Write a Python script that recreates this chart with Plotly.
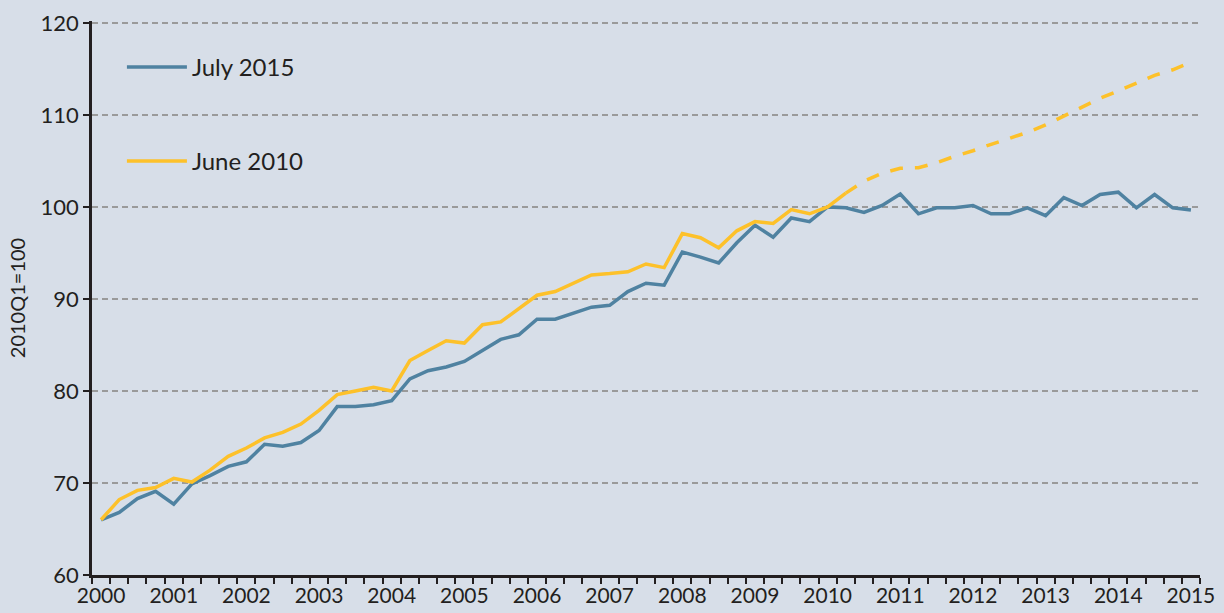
import plotly.graph_objects as go

quarters = [f"{y}Q{q}" for y in range(2000, 2015) for q in range(1, 5)] + ["2015Q1"]
tick_text = [q[:4] if q.endswith("Q1") else "" for q in quarters]

july_2015 = [66.0, 66.8, 68.3, 69.1, 67.7, 69.9, 70.8, 71.8, 72.3, 74.2,
             74.0, 74.4, 75.7, 78.3, 78.3, 78.5, 78.95, 81.3, 82.2, 82.6,
             83.2, 84.4, 85.6, 86.1, 87.8, 87.8, 88.45, 89.1, 89.3, 90.8,
             91.7, 91.5, 95.1, 94.55, 93.9, 96.1, 98.0, 96.7, 98.8, 98.4,
             100.0, 99.9, 99.4, 100.15, 101.4, 99.25, 99.9, 99.9, 100.15, 99.25,
             99.25, 99.9, 99.05, 101.0, 100.15, 101.35, 101.6, 99.9, 101.35, 99.9,
             99.65]

june_2010_actual = [66.0, 68.2, 69.2, 69.5, 70.5, 70.1, 71.4, 72.9, 73.8, 74.9,
                    75.5, 76.4, 77.9, 79.6, 80.0, 80.4, 80.0, 83.3, 84.4, 85.45,
                    85.2, 87.2, 87.5, 88.9, 90.4, 90.8, 91.7, 92.6, 92.75, 92.95,
                    93.8, 93.4, 97.1, 96.65, 95.55, 97.4, 98.4, 98.2, 99.7, 99.25,
                    100.0, 101.5]
june_2010_forecast = [101.5, 102.8, 103.65, 104.2, 104.25, 104.8, 105.5, 106.1, 106.8, 107.4,
                      108.1, 108.9, 109.9, 110.8, 111.8, 112.6, 113.4, 114.3, 114.9, 115.7]

y_ticks = [60, 70, 80, 90, 100, 110, 120]

n_act = len(june_2010_actual)
fc_x = quarters[n_act - 1:n_act - 1 + len(june_2010_forecast)]

BLUE = "#4f82a1"
YELLOW = "#fdc12a"
BG = "#d7dee8"
INK = "#231f20"
FONT = "Lato"

fig = go.Figure()
fig.add_trace(go.Scatter(x=quarters, y=july_2015, mode="lines", name="July 2015",
                         line=dict(color=BLUE, width=3.5), legendgroup="a"))
fig.add_trace(go.Scatter(x=quarters[:n_act], y=june_2010_actual, mode="lines", name="June 2010",
                         line=dict(color=YELLOW, width=3.5), legendgroup="b"))
fig.add_trace(go.Scatter(x=fc_x, y=june_2010_forecast, mode="lines", name="June 2010 forecast",
                         line=dict(color=YELLOW, width=3.5, dash="13px,12px"),
                         legendgroup="b", showlegend=False))

fig.update_layout(
    width=1224, height=613,
    paper_bgcolor=BG, plot_bgcolor=BG,
    margin=dict(l=92, r=24, t=21, b=38, autoexpand=False),
    font=dict(family=FONT, size=22, color=INK),
    showlegend=True,
    legend=dict(x=0.027, y=0.957, xanchor="left", yanchor="top",
                bgcolor="rgba(0,0,0,0)", font=dict(size=24, color=INK),
                tracegroupgap=60, traceorder="grouped", itemwidth=60),
)
fig.update_xaxes(
    type="category", categoryorder="array", categoryarray=quarters,
    range=[-0.5, len(quarters) - 0.5],
    tickmode="array", tickvals=quarters, ticktext=tick_text, tickangle=0,
    tickson="boundaries", ticks="outside", ticklen=6, tickwidth=1.5, tickcolor=INK,
    showline=True, linecolor=INK, linewidth=2.5, automargin=False,
    showgrid=False, zeroline=False, tickfont=dict(size=21),
)
fig.update_yaxes(
    range=[60, 120.2], tickvals=y_ticks,
    ticks="outside", ticklen=6, tickwidth=1.5, tickcolor=INK,
    showline=True, linecolor=INK, linewidth=2.5, automargin=False,
    showgrid=True, gridcolor="#9a9a9a", gridwidth=1.5, griddash="6px,4px",
    zeroline=False, tickfont=dict(size=22),
    title=dict(text="2010Q1=100", font=dict(size=20), standoff=10),
)

fig.write_html("out.html", config={"displayModeBar": False},
               post_script="document.body.style.margin='0';")
